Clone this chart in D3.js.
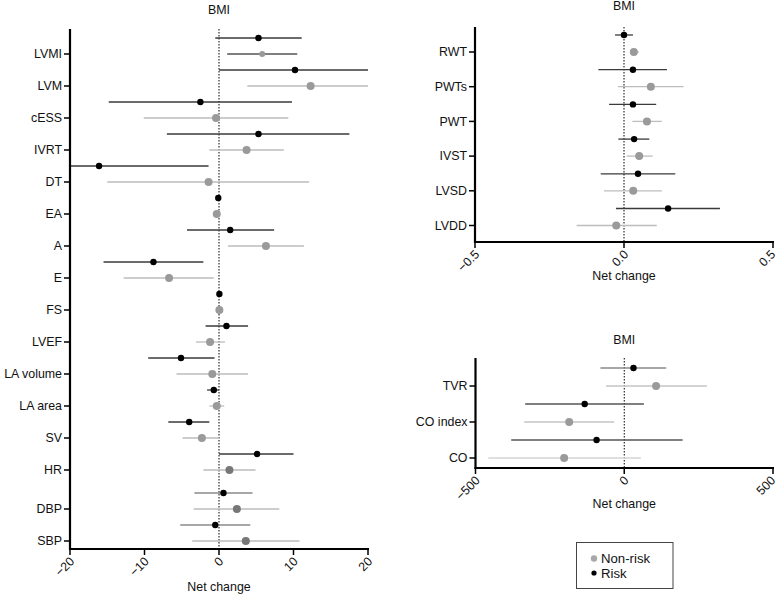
<!DOCTYPE html>
<html><head><meta charset="utf-8">
<script src="https://cdn.jsdelivr.net/npm/d3@7"></script>
<style>body{margin:0;background:#fff}svg{display:block;font-family:"Liberation Sans",Arial,sans-serif}</style>
</head><body><svg id="c" width="780" height="596"></svg>
<script>
// ---------- DATA ----------
// Left panel (echo / haemodynamic variables)
const leftCats = ["LVMI","LVM","cESS","IVRT","DT","EA","A","E","FS","LVEF","LA volume","LA area","SV","HR","DBP","SBP"];
const leftRisk =    [5.3, 10.2, -2.5, 5.3, -16.1, -0.1, 1.5, -8.8, 0.05, 1.0, -5.1, -0.7, -4.0, 5.1, 0.6, -0.5];
const leftRiskLo =  [-0.5, 0, -14.8, -7.0, -20, -0.1, -4.3, -15.5, 0.05, -1.8, -9.5, -1.6, -6.8, 0, -3.3, -5.2];
const leftRiskHi =  [11.1, 20, 9.8, 17.5, -1.4, -0.1, 7.4, -2.1, 0.05, 3.9, -0.6, 0, -1.3, 10.0, 4.5, 4.2];
const leftNon =     [5.8, 12.3, -0.4, 3.7, -1.4, -0.3, 6.3, -6.7, 0.05, -1.2, -0.9, -0.3, -2.3, 1.4, 2.4, 3.6];
const leftNonLo =   [1.1, 3.8, -10.1, -1.3, -15.0, -0.3, 1.2, -12.8, 0.05, -3.1, -5.7, -1.3, -4.9, -2.1, -3.4, -3.6];
const leftNonHi =   [10.5, 20, 9.3, 8.7, 12.1, -0.3, 11.4, -0.7, 0.05, 0.8, 3.9, 0.7, 0, 4.9, 8.1, 10.8];
const leftTicks = [-20, -10, 0, 10, 20];

// Right top panel (wall thickness / dimensions)
const rtCats = ["RWT","PWTs","PWT","IVST","LVSD","LVDD"];
const rtRisk =   [0.0, 0.03, 0.03, 0.034, 0.047, 0.148];
const rtRiskLo = [-0.03, -0.086, -0.05, -0.019, -0.078, -0.027];
const rtRiskHi = [0.03, 0.144, 0.108, 0.085, 0.172, 0.322];
const rtNon =    [0.033, 0.09, 0.077, 0.051, 0.031, -0.026];
const rtNonLo =  [0.022, -0.02, 0.028, 0.009, -0.067, -0.159];
const rtNonHi =  [0.05, 0.2, 0.127, 0.096, 0.127, 0.11];
const rtTicks = [-0.5, 0, 0.5];

// Right bottom panel (cardiac output / resistance)
const rbCats = ["TVR","CO index","CO"];
const rbRisk =   [31, -133, -93];
const rbRiskLo = [-80, -333, -380];
const rbRiskHi = [141, 66, 196];
const rbNon =    [107, -185, -202];
const rbNonLo =  [-61, -336, -457];
const rbNonHi =  [278, -34, 56];
const rbTicks = [-500, 0, 500];

const legendLabels = ["Non-risk","Risk"];

// ---------- DRAW ----------
const svg = d3.select("#c");
const FS = 12.4;

function panel(cfg){
  const g = svg.append("g");
  const x = d3.scaleLinear().domain(cfg.domain).range([cfg.x0, cfg.x1]);
  // category slot -> y (optional gap between groups)
  const y = d3.scaleLinear().domain([0, 1]).range([cfg.y0, cfg.y0 + cfg.step]);
  const slotY = i => y(i) + (cfg.gapAt!=null && i>=cfg.gapAt ? cfg.gap : 0);

  // zero reference line
  g.append("line").attr("x1",x(0)).attr("x2",x(0)).attr("y1",cfg.top).attr("y2",cfg.bottom)
    .attr("stroke","#000").attr("stroke-width",1).attr("stroke-dasharray","1.5,1.5");

  const rows = cfg.cats.map((c,i)=>({c,i,
    ty: slotY(i), ry: slotY(i) - cfg.off,
    r: cfg.risk[i], rlo: cfg.riskLo[i], rhi: cfg.riskHi[i],
    nn: cfg.non[i], nlo: cfg.nonLo[i], nhi: cfg.nonHi[i]}));

  g.selectAll(".nl").data(rows).join("line")
    .attr("x1",d=>x(d.nlo)).attr("x2",d=>x(d.nhi)).attr("y1",d=>d.ty).attr("y2",d=>d.ty)
    .attr("stroke",d=>cfg.nonLine? cfg.nonLine(d.c):"#bdbdbd").attr("stroke-width",1.3);
  g.selectAll(".rl").data(rows).join("line")
    .attr("x1",d=>x(d.rlo)).attr("x2",d=>x(d.rhi)).attr("y1",d=>d.ry).attr("y2",d=>d.ry)
    .attr("stroke",d=>cfg.riskLine? cfg.riskLine(d.c):"#3a3a3a").attr("stroke-width",1.3);
  g.selectAll(".nd").data(rows).join("circle")
    .attr("cx",d=>x(d.nn)).attr("cy",d=>d.ty).attr("r",d=>cfg.nonR? cfg.nonR(d.c):4)
    .attr("fill",d=>cfg.nonFill? cfg.nonFill(d.c):"#9a9a9a");
  g.selectAll(".rd").data(rows).join("circle")
    .attr("cx",d=>x(d.r)).attr("cy",d=>d.ry).attr("r",3.2).attr("fill","#000");

  // y axis
  g.append("line").attr("x1",cfg.x0).attr("x2",cfg.x0).attr("y1",cfg.top).attr("y2",cfg.bottom+1)
    .attr("stroke","#000").attr("stroke-width",2.2);
  g.selectAll(".yt").data(rows).join("line")
    .attr("x1",cfg.x0-6).attr("x2",cfg.x0).attr("y1",d=>d.ty).attr("y2",d=>d.ty)
    .attr("stroke","#000").attr("stroke-width",1.5);
  g.selectAll(".yl").data(rows).join("text")
    .attr("x",cfg.x0-8).attr("y",d=>d.ty).attr("dy","0.35em").attr("text-anchor","end")
    .attr("font-size",FS).attr("fill","#111").text(d=>d.c);

  // x axis
  g.append("line").attr("x1",cfg.x0-1).attr("x2",cfg.x1+1).attr("y1",cfg.bottom).attr("y2",cfg.bottom)
    .attr("stroke","#000").attr("stroke-width",2.2);
  cfg.ticks.forEach((t,k)=>{
    g.append("line").attr("x1",x(t)).attr("x2",x(t)).attr("y1",cfg.bottom).attr("y2",cfg.bottom+6)
      .attr("stroke","#000").attr("stroke-width",1.5);
    const last = k===cfg.ticks.length-1 && cfg.x1>760;
    g.append("text").attr("transform",`translate(${x(t)-(last?3:1)},${cfg.bottom+7}) rotate(-45)`)
      .attr("text-anchor","end").attr("dy","0.7em").attr("font-size",FS).attr("fill","#111")
      .text(cfg.fmt? cfg.fmt(t) : String(t).replace("-","\u2212"));
  });
  g.append("text").attr("x",(cfg.x0+cfg.x1)/2).attr("y",cfg.xlabY).attr("text-anchor","middle")
    .attr("font-size",FS).attr("fill","#111").text("Net change");
  g.append("text").attr("x",x(0)).attr("y",cfg.titleY).attr("text-anchor","middle")
    .attr("font-size",FS).attr("fill","#111").text("BMI");
}

const darkGrey = new Set(["HR","DBP","SBP"]);
panel({cats:leftCats, risk:leftRisk, riskLo:leftRiskLo, riskHi:leftRiskHi,
  non:leftNon, nonLo:leftNonLo, nonHi:leftNonHi, domain:[-20,20], ticks:leftTicks,
  x0:70, x1:368, y0:54, step:32, gapAt:14, gap:7, off:16, top:29, bottom:549,
  xlabY:591, titleY:14,
  nonFill:c=>darkGrey.has(c)?"#777":"#9a9a9a",
  nonR:c=>c==="LVMI"?3:4,
  nonLine:c=>c==="LVMI"?"#555":"#bdbdbd",
  riskLine:c=>(c==="DBP"||c==="SBP")?"#8a8a8a":"#3a3a3a"});

panel({cats:rtCats, risk:rtRisk, riskLo:rtRiskLo, riskHi:rtRiskHi,
  non:rtNon, nonLo:rtNonLo, nonHi:rtNonHi, domain:[-0.5,0.5], ticks:rtTicks,
  x0:475, x1:773, y0:52, step:34.7, off:17, top:27, bottom:242,
  xlabY:280, titleY:10, fmt:t=>d3.format(".1f")(t).replace("-","\u2212")});

panel({cats:rbCats, risk:rbRisk, riskLo:rbRiskLo, riskHi:rbRiskHi,
  non:rbNon, nonLo:rbNonLo, nonHi:rbNonHi, domain:[-500,500], ticks:rbTicks,
  x0:475.5, x1:773, y0:386, step:36, off:18, top:358, bottom:468,
  xlabY:508, titleY:344,
  riskLine:c=>c==="TVR"?"#8a8a8a":"#555",
  nonLine:c=>c==="CO"?"#d5d5d5":"#c4c4c4"});

// legend
const lg = svg.append("g");
lg.append("rect").attr("x",576.5).attr("y",542.5).attr("width",96.5).attr("height",46)
  .attr("fill","#fff").attr("stroke","#444").attr("stroke-width",1);
const lfill = ["#a8a8a8","#000"];
legendLabels.forEach((t,i)=>{
  lg.append("circle").attr("cx",594).attr("cy",558.5+i*14.5).attr("r",i?2.6:3.2).attr("fill",lfill[i]);
  lg.append("text").attr("x",601).attr("y",558.5+i*14.5).attr("dy","0.35em").attr("font-size",13.2)
    .attr("fill","#111").text(t);
});
</script></body></html>
